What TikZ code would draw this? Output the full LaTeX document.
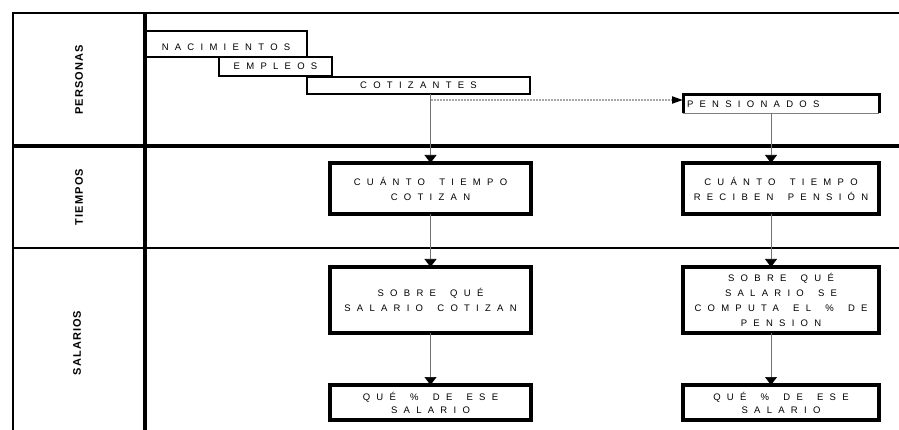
\documentclass[tikz,border=0pt]{standalone}
\usepackage{fontspec}
\setmainfont{Liberation Sans}
\newfontfamily\espaciada[LetterSpace=66,WordSpace=1.6]{Liberation Sans}
\newfontfamily\rotulo[LetterSpace=10]{Liberation Sans}
\usetikzlibrary{arrows.meta,positioning,calc}

\tikzset{
  caja/.style={rectangle, draw, line width=3.2pt, outer sep=0pt, inner sep=0pt, align=center,
    font=\espaciada\fontsize{9.5}{15}\selectfont},
  barra/.style={caja, line width=2.8pt},
  etiqueta/.style={rotate=90, inner sep=1pt, font=\rotulo\bfseries\fontsize{11}{12}\selectfont},
  flujo/.style={-{Triangle[width=12pt,length=8pt,color=black]}, draw=black!55, line width=0.7pt},
  punteado/.style={-{Triangle[width=7pt,length=11pt,color=black]}, draw=black!35, line width=2pt, densely dotted},
  marco/.style={line width=1.6pt},
  marcogrueso/.style={line width=3.4pt}
}

\begin{document}
\begin{tikzpicture}[x=1pt, y=-1pt]
    \useasboundingbox (0,0) rectangle (899,430);
        %% Marco y filas
        \draw[marco] (13,430) -- (13,13) -- (899,13);
        \draw[marcogrueso] (145,13) -- (145,430);
        \draw[marcogrueso] (13,146) -- (899,146);
        \draw[marco] (13,248) -- (899,248);

        \node[etiqueta] (personas) at (79,80) {PERSONAS};
        \node[etiqueta] (tiempos) at (79,197) {TIEMPOS};
        \node[etiqueta] (salarios) at (77,343) {SALARIOS};

        %% Personas
        \node[barra, anchor=north west, minimum width=162, text height=17pt, text depth=3pt, inner ysep=3pt] (nacim) at (145,31) {NACIMIENTOS};
        \node[barra, anchor=north west, minimum width=113, minimum height=19] (empleos) at (219,57) {EMPLEOS};
        \node[barra, anchor=north west, minimum width=223, minimum height=17] (cotiz) at (307,77) {COTIZANTES};
        \node[caja, draw=none, anchor=north west, minimum width=196, minimum height=18, text width=188, align=left, inner xsep=4pt] (pension) at (683,95) {PENSIONADOS};
        \draw[line width=3pt] (pension.south west) -- (pension.north west) -- (pension.north east) -- (pension.south east);
        \draw[line width=0.6pt, black!50] (pension.south west) -- (pension.south east);

        %% Tiempos
        \node[caja, minimum width=201, minimum height=51] (tiempo1) at (430.5,188.5) {CUÁNTO TIEMPO\\COTIZAN};
        \node[caja, minimum width=196, minimum height=51] (tiempo2) at (781,188.5) {CUÁNTO TIEMPO\\RECIBEN PENSIÓN};

        %% Salarios
        \node[caja, minimum width=201, minimum height=66] (sobre1) at (430.5,300) {SOBRE QUÉ\\SALARIO COTIZAN};
        \node[caja, minimum width=196, minimum height=66] (sobre2) at (781,300) {SOBRE QUÉ\\SALARIO SE\\COMPUTA EL \% DE\\PENSION};
        \node[caja, minimum width=201, minimum height=35, font=\espaciada\fontsize{9.5}{13}\selectfont] (porc1) at (430.5,402.5) {QUÉ \% DE ESE\\SALARIO};
        \node[caja, minimum width=196, minimum height=35, font=\espaciada\fontsize{9.5}{13}\selectfont] (porc2) at (781,402.5) {QUÉ \% DE ESE\\SALARIO};

        %% Conectores
        \coordinate (ejeder) at (771,0);
        \coordinate (ramal) at ($(tiempo1.north |- cotiz.south)+(0,6)$);
        \draw[flujo] (tiempo1.north |- cotiz.south) -- (tiempo1.north);
        \draw[punteado] (ramal) -- (ramal -| pension.west);
        \draw[flujo] (ejeder |- pension.south) -- (ejeder |- tiempo2.north);
        \draw[flujo] (tiempo1) -- (sobre1);
        \draw[flujo] (ejeder |- tiempo2.south) -- (ejeder |- sobre2.north);
        \draw[flujo] (sobre1) -- (porc1);
        \draw[flujo] (ejeder |- sobre2.south) -- (ejeder |- porc2.north);
\end{tikzpicture}
\end{document}
